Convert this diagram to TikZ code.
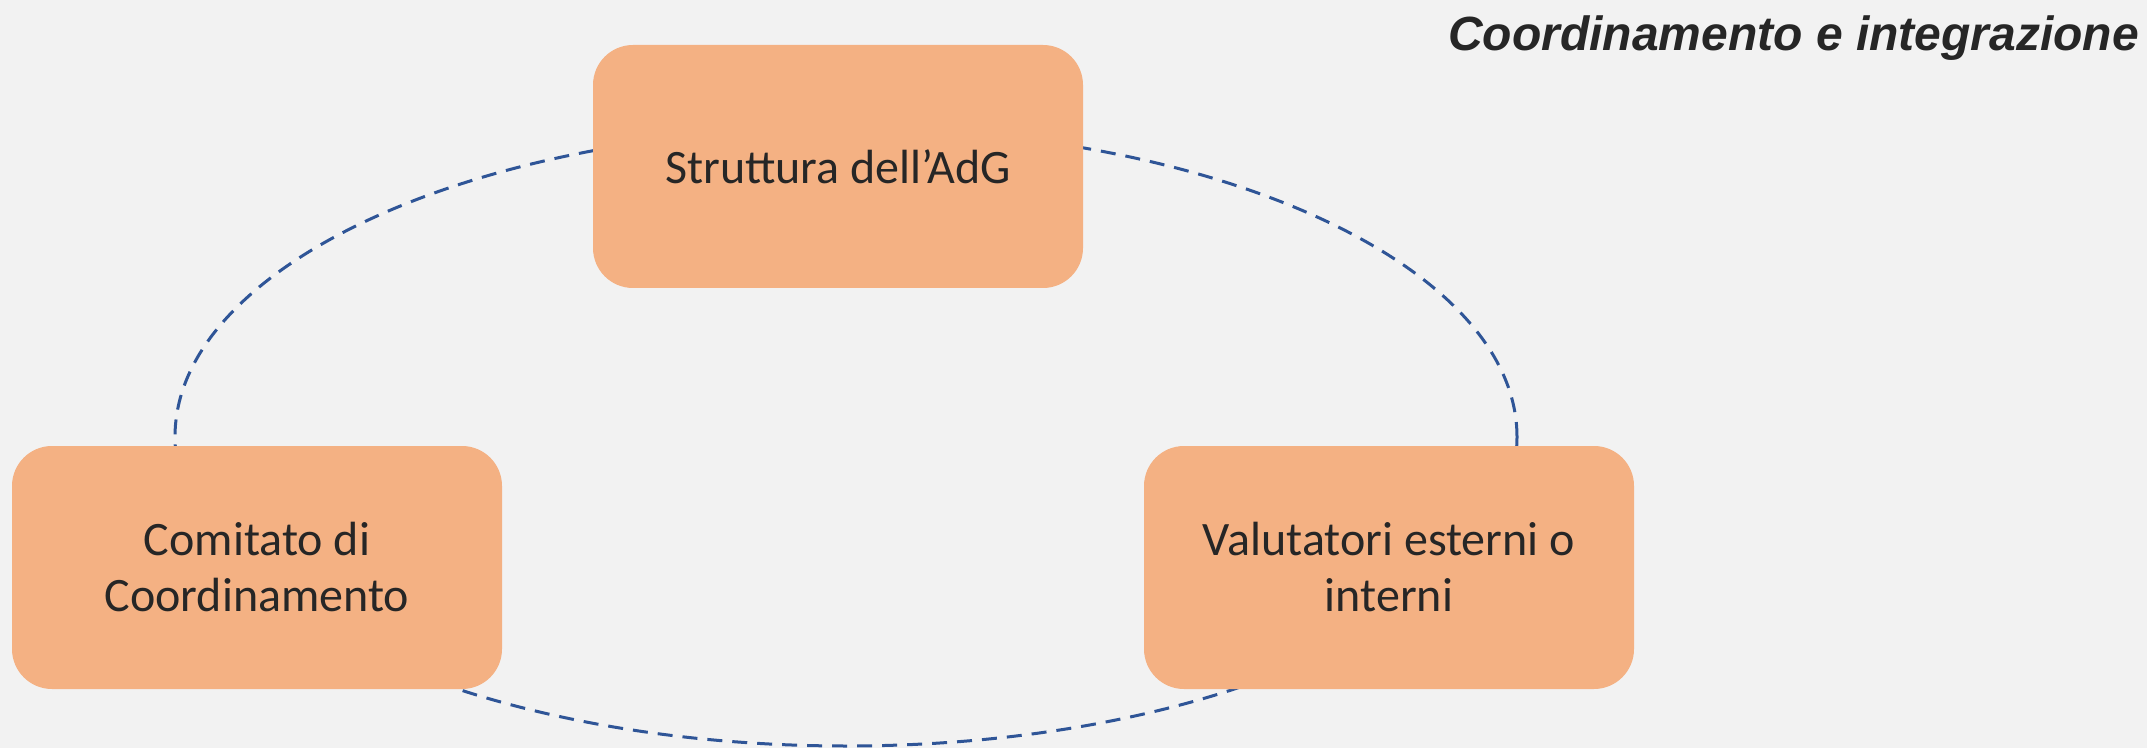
\documentclass[tikz,border=0pt]{standalone}
\usepackage{fontspec}
\setmainfont{Carlito}
\newfontfamily\headfont{Liberation Sans}
\usetikzlibrary{positioning,calc}

\definecolor{boxfill}{HTML}{F4B183}
\definecolor{ringblue}{HTML}{2F5597}
\definecolor{inkgray}{HTML}{262626}
\definecolor{pagegray}{HTML}{F2F2F2}

\tikzset{
	orgbox/.style={fill=boxfill, rounded corners=40pt, minimum width=490pt,
		minimum height=243pt, inner sep=0pt, align=center, text=inkgray,
		font=\fontsize{48}{56}\selectfont},
	ring/.style={draw=ringblue, line width=3pt, dash pattern=on 15pt off 10pt}
}

\begin{document}
\begin{tikzpicture}[x=1pt, y=1pt]
	\fill[pagegray] (0,0) rectangle (2147,748);
	\useasboundingbox (0,0) rectangle (2147,748);

	% ring behind the three boxes
	\coordinate (centre) at (846, 311);
	\draw[ring] (centre) ellipse [x radius=671, y radius=309];

	\node[orgbox] (adg) at (838, 581.5) {Struttura dell’AdG};
	\node[orgbox] (comitato) at (257, 180.5) {Comitato di\\Coordinamento};
	\node[orgbox] (valutatori) at (1389, 180.5) {Valutatori esterni o\\interni};

	\node[anchor=base east, inner sep=0pt, text=inkgray,
		font=\headfont\bfseries\itshape\fontsize{48}{58}\selectfont]
		(titolo) at (2139, 697) {Coordinamento e integrazione};
\end{tikzpicture}
\end{document}
